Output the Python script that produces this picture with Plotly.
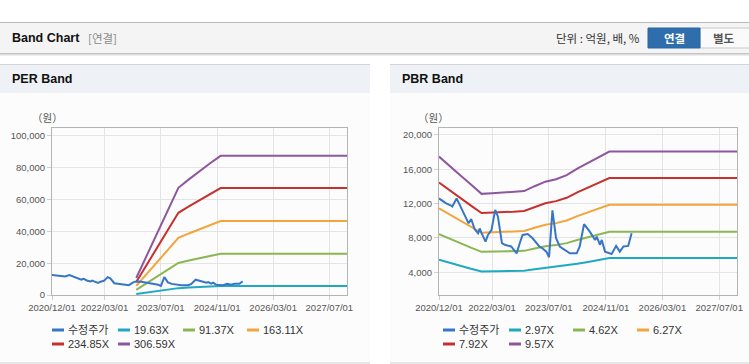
import plotly.graph_objects as go

W, H = 749, 364

# ---------------- data ----------------
price_dates = ["2020-12-01", "2021-01-01", "2021-01-28", "2021-03-10", "2021-03-25", "2021-05-01",
               "2021-05-15", "2021-06-18", "2021-08-01", "2021-08-12", "2021-09-03", "2021-10-03",
               "2021-11-01", "2021-11-15", "2021-12-01", "2022-01-04", "2022-01-25", "2022-02-24",
               "2022-03-28", "2022-04-20", "2022-05-25", "2022-06-18", "2022-08-12", "2022-09-28",
               "2022-10-25", "2022-11-18", "2023-01-01", "2023-02-12", "2023-04-12", "2023-05-06",
               "2023-06-10", "2023-07-03", "2023-08-01", "2023-08-12", "2023-09-01", "2023-10-03",
               "2023-12-28", "2024-02-25", "2024-03-22", "2024-04-28", "2024-06-18", "2024-08-01",
               "2024-08-15", "2024-09-12", "2024-09-27", "2024-10-25", "2024-12-21", "2025-01-28",
               "2025-03-01", "2025-04-01", "2025-05-12", "2025-06-10"]
price_values = [12600, 12300, 12050, 11800, 11650, 12600,
                12200, 11260, 9900, 9700, 10200, 9000,
                8550, 9100, 8550, 7570, 8350, 8900,
                11260, 10500, 7400, 7200, 7000, 6200,
                7400, 8350, 8460, 7960, 6980, 6800,
                6400, 5750, 11200, 10100, 7960, 7000,
                6200, 6200, 7000, 9600, 8700, 7760,
                8150, 7200, 7760, 6400, 6130, 7070,
                6400, 7000, 7070, 8550]

per_dates = ["2022-12-01", "2023-03-01", "2023-06-01", "2023-09-01", "2023-12-01",
             "2024-03-01", "2024-06-01", "2024-09-01", "2024-12-01", "2027-12-01"]
per_names = ["19.63X", "91.37X", "163.11X", "234.85X", "306.59X"]
per_1963 = [690, 1590, 2490, 3400, 4320, 4650, 4990, 5300, 5590, 5590]
per_9137 = [3200, 7400, 11600, 15800, 20100, 21700, 23200, 24700, 26000, 26000]
per_16311 = [5700, 13200, 20700, 28200, 35900, 38700, 41400, 44000, 46500, 46500]
per_23485 = [8200, 19000, 29800, 40600, 51700, 55700, 59700, 63400, 67200, 67200]
per_30659 = [10700, 24800, 38900, 53000, 67400, 72700, 77900, 82800, 87500, 87500]

pbr_dates = ["2020-12-01", "2021-03-01", "2021-06-01", "2021-09-01", "2021-12-01",
             "2022-03-01", "2022-06-01", "2022-09-01", "2022-12-01", "2023-03-01",
             "2023-06-01", "2023-09-01", "2023-12-01", "2024-03-01", "2024-06-01",
             "2024-09-01", "2024-12-01", "2027-12-01"]
pbr_names = ["2.97X", "4.62X", "6.27X", "7.92X", "9.57X"]
pbr_297 = [5450, 5080, 4750, 4410, 4100, 4120, 4140, 4150, 4180, 4350, 4510, 4600, 4750, 4990, 5200, 5410, 5650, 5650]
pbr_462 = [8430, 7900, 7390, 6860, 6380, 6400, 6420, 6440, 6490, 6770, 7020, 7160, 7390, 7760, 8090, 8410, 8720, 8720]
pbr_627 = [11440, 10720, 10030, 9310, 8600, 8650, 8720, 8750, 8810, 9190, 9530, 9720, 10030, 10530, 10970, 11410, 11860, 11860]
pbr_792 = [14450, 13540, 12670, 11760, 10900, 10930, 11010, 11050, 11130, 11600, 12040, 12280, 12670, 13310, 13860, 14410, 14970, 14970]
pbr_957 = [17470, 16360, 15310, 14210, 13130, 13210, 13300, 13350, 13450, 14020, 14550, 14830, 15310, 16080, 16750, 17420, 18060, 18060]

price_name = "수정주가"
x_tickvals = ["2020-12-01", "2022-03-01", "2023-07-01", "2024-11-01", "2026-03-01", "2027-07-01"]
x_ticktext = ["2020/12/01", "2022/03/01", "2023/07/01", "2024/11/01", "2026/03/01", "2027/07/01"]
x_range = ["2020-12-01", "2027-12-01"]
per_yticks = [0, 20000, 40000, 60000, 80000, 100000]
pbr_yticks = [4000, 8000, 12000, 16000, 20000]

# ---------------- style ----------------
C_PRICE = "#3776c6"
BAND_COLORS = ["#1fa9c0", "#8cb652", "#f3a43a", "#c6312e", "#8e579d"]
FONT = "Liberation Sans, Noto Sans CJK KR, sans-serif"
KFONT = "Noto Sans CJK KR, Liberation Sans, sans-serif"


def px(x):
    return x / W


def py(y):
    return 1 - y / H


fig = go.Figure()

per_series = [per_1963, per_9137, per_16311, per_23485, per_30659]
for name, vals, col in zip(per_names, per_series, BAND_COLORS):
    fig.add_trace(go.Scatter(x=per_dates, y=vals, mode="lines", name=name,
                             line=dict(color=col, width=2), xaxis="x", yaxis="y", showlegend=False))

pbr_series = [pbr_297, pbr_462, pbr_627, pbr_792, pbr_957]
for name, vals, col in zip(pbr_names, pbr_series, BAND_COLORS):
    fig.add_trace(go.Scatter(x=pbr_dates, y=vals, mode="lines", name=name,
                             line=dict(color=col, width=2), xaxis="x2", yaxis="y2", showlegend=False))

fig.add_trace(go.Scatter(x=price_dates, y=price_values, mode="lines", name=price_name,
                         line=dict(color=C_PRICE, width=2), xaxis="x", yaxis="y", showlegend=False))
fig.add_trace(go.Scatter(x=price_dates, y=price_values, mode="lines", name=price_name,
                         line=dict(color=C_PRICE, width=2), xaxis="x2", yaxis="y2", showlegend=False))

axis_common = dict(showline=True, mirror=True, linecolor="#b4b4b4", linewidth=1,
                   showgrid=True, gridcolor="#e4e4e4", gridwidth=1, zeroline=False,
                   ticks="outside", ticklen=4, tickcolor="#d0d0d0", automargin=False,
                   tickfont=dict(family=FONT, size=9.5, color="#555555"))

xdom1 = [px(52), px(347)]
xdom2 = [px(439), px(737)]
ydom = [py(295), py(128)]

fig.update_layout(
    width=W, height=H, margin=dict(l=0, r=0, t=0, b=0, autoexpand=False),
    paper_bgcolor="#ffffff", plot_bgcolor="#ffffff",
    showlegend=False,
    xaxis=dict(domain=xdom1, anchor="y", type="date", range=x_range,
               tickvals=x_tickvals, ticktext=x_ticktext, **axis_common),
    yaxis=dict(domain=ydom, anchor="x", range=[0, 105000], tickvals=per_yticks,
               tickformat=",d", **axis_common),
    xaxis2=dict(domain=xdom2, anchor="y2", type="date", range=x_range,
                tickvals=x_tickvals, ticktext=x_ticktext, **axis_common),
    yaxis2=dict(domain=ydom, anchor="x2", range=[1350, 20800], tickvals=pbr_yticks,
                tickformat=",d", **axis_common),
)

shapes = []
annotations = []


def rect(x0, y0, x1, y1, fill, line=None, lw=0, layer="below"):
    shapes.append(dict(type="rect", xref="paper", yref="paper", x0=px(x0), x1=px(x1),
                       y0=py(y1), y1=py(y0), fillcolor=fill, layer=layer,
                       line=dict(color=line or fill, width=lw)))


def hline(x0, x1, y, color, w=1, layer="below"):
    shapes.append(dict(type="line", xref="paper", yref="paper", x0=px(x0), x1=px(x1),
                       y0=py(y), y1=py(y), line=dict(color=color, width=w), layer=layer))


def text(x, y, s, size, color, bold=False, xanchor="left", family=FONT):
    annotations.append(dict(xref="paper", yref="paper", x=px(x), y=py(y), text=("<b>%s</b>" % s) if bold else s,
                            showarrow=False, xanchor=xanchor, yanchor="middle",
                            font=dict(family=family, size=size, color=color)))


# header bar
rect(0, 22, W, 53, "#f4f4f4")
hline(0, W, 22.5, "#b8b8b8")
hline(0, W, 53.5, "#c4c4c4")
hline(0, W, 54.5, "#dcdcdc")
hline(0, W, 55.5, "#eeeeee")
text(10, 38, "Band Chart", 12.5, "#111111", bold=True)
text(86, 38, "[연결]", 11.5, "#8a8a8a", family=KFONT)
text(642, 38, "단위 : 억원, 배, %", 11.5, "#333333", xanchor="right", family=KFONT)
rect(700, 28, 752, 48, "#fafafa", line="#c8c8c8", lw=1)
rect(648, 28, 700, 48, "#2e6eac", line="#2a64a0", lw=1)
text(674, 38, "연결", 11.5, "#ffffff", bold=True, xanchor="center", family=KFONT)
text(724, 38, "별도", 11.5, "#555555", bold=True, xanchor="center", family=KFONT)

# panels
for (a, b, title) in [(0, 370, "PER Band"), (390, W, "PBR Band")]:
    rect(a, 64, b, 363, "#fcfcfc")
    rect(a, 64, b, 93, "#eef1f6")
    hline(a, b, 64.5, "#d4d4d4")
    hline(a, b, 363, "#d0d0d0")
    text(a + 10, 79, title, 12.5, "#111111", bold=True)

text(47, 118, "（원）", 10.5, "#555555", xanchor="center", family=KFONT)
text(433, 118, "（원）", 10.5, "#555555", xanchor="center", family=KFONT)

# manual legends
per_legend = [(52, 330, price_name, C_PRICE)] + [
    (x, y, n, c) for (x, y), n, c in zip([(118, 330), (183, 330), (247, 330), (52, 344), (118, 344)],
                                       per_names, BAND_COLORS)]
pbr_legend = [(443, 330, price_name, C_PRICE)] + [
    (x, y, n, c) for (x, y), n, c in zip([(509, 330), (573, 330), (637, 330), (443, 344), (509, 344)],
                                       pbr_names, BAND_COLORS)]
for x, y, n, c in per_legend + pbr_legend:
    hline(x, x + 12, y, c, w=3, layer="above")
    text(x + 13.5, y, n, 11, "#333333", family=FONT)

fig.update_layout(shapes=shapes, annotations=annotations)

fig.write_html("out.html", config={"displayModeBar": False},
               post_script="document.body.style.margin='0';document.body.style.padding='0';"
                           "document.body.style.overflow='hidden';")
